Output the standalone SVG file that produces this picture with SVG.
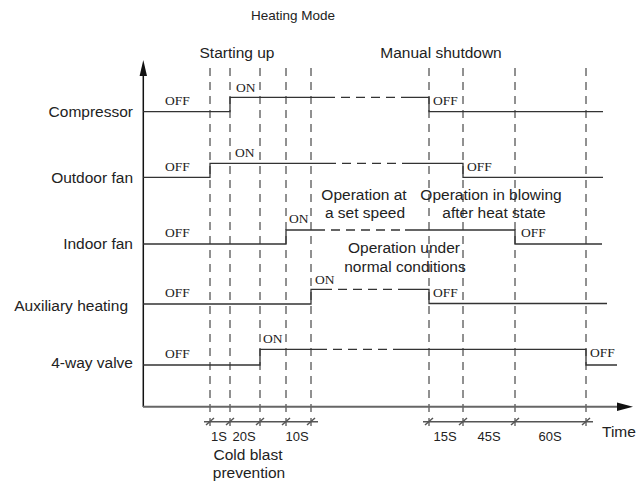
<svg xmlns="http://www.w3.org/2000/svg" width="636" height="484" viewBox="0 0 636 484">
<defs>
<style>
.t{font-family:"Liberation Sans",Arial,sans-serif;font-size:15.5px;fill:#222}
.s{font-family:"Liberation Sans",Arial,sans-serif;font-size:13px;fill:#222}
.h{font-family:"Liberation Sans",Arial,sans-serif;font-size:13.5px;fill:#222}
.o{font-family:"Liberation Serif","Times New Roman",serif;font-size:13.5px;fill:#222}
.sig{fill:none;stroke:#333;stroke-width:1.3}
.dsh{fill:none;stroke:#333;stroke-width:1.3;stroke-dasharray:9 6}
.grid{fill:none;stroke:#222;stroke-width:1;stroke-dasharray:8 6}
.tk{fill:none;stroke:#555;stroke-width:1.5}
</style>
</defs>
<rect width="636" height="484" fill="#fff"/>
<text class="h" x="293" y="20" text-anchor="middle">Heating Mode</text>
<text class="t" x="237" y="58" text-anchor="middle">Starting up</text>
<text class="t" x="441" y="58" text-anchor="middle">Manual shutdown</text>

<g id="grid">
<path class="grid" d="M210,68V432M230,68V432M260,68V432M286,68V432M311,68V432M429,68V432M463,68V432M515,68V432M586,68V432"/>
</g>

<g id="axes">
<line x1="143.3" y1="72" x2="143.3" y2="407" stroke="#111" stroke-width="1.5"/>
<polygon points="143.3,60 139.6,76 147,76" fill="#111"/>
<line x1="143" y1="406.7" x2="620" y2="406.7" stroke="#666" stroke-width="2"/>
<polygon points="633,406.7 617,402.5 617,411" fill="#111"/>
</g>

<g id="compressor">
<text class="t" x="133" y="117" text-anchor="end">Compressor</text>
<path class="sig" d="M143.3,111.7H230V97.3H326"/>
<path class="dsh" d="M326,97.3H405"/>
<path class="sig" d="M405,97.3H429V111.7H603"/>
<text class="o" x="165" y="105">OFF</text>
<text class="o" x="236" y="92">ON</text>
<text class="o" x="433" y="105">OFF</text>
</g>

<g id="outdoor-fan">
<text class="t" x="133" y="183" text-anchor="end">Outdoor fan</text>
<path class="sig" d="M143.3,177.3H210V163.3H327"/>
<path class="dsh" d="M327,163.3H405"/>
<path class="sig" d="M405,163.3H463V177.3H603"/>
<text class="o" x="165" y="171">OFF</text>
<text class="o" x="235" y="157">ON</text>
<text class="o" x="467" y="171">OFF</text>
</g>

<g id="indoor-fan">
<text class="t" x="133" y="249" text-anchor="end">Indoor fan</text>
<path class="sig" d="M143.3,244H286V230H316"/>
<path class="dsh" d="M316,230H405"/>
<path class="sig" d="M405,230H515V244H602"/>
<text class="o" x="165" y="237">OFF</text>
<text class="o" x="289" y="223">ON</text>
<text class="o" x="521" y="237">OFF</text>
</g>

<g id="auxiliary-heating">
<text class="t" x="128" y="311" text-anchor="end">Auxiliary heating</text>
<path class="sig" d="M143.3,304H311V289.3H323"/>
<path class="dsh" d="M323,289.3H405"/>
<path class="sig" d="M405,289.3H429V303.5H607"/>
<text class="o" x="165" y="297">OFF</text>
<text class="o" x="315" y="284">ON</text>
<text class="o" x="433" y="297">OFF</text>
</g>

<g id="four-way-valve">
<text class="t" x="133" y="368" text-anchor="end">4-way valve</text>
<path class="sig" d="M143.3,365H260V349.3H318"/>
<path class="dsh" d="M318,349.3H402"/>
<path class="sig" d="M402,349.3H586V365H617"/>
<text class="o" x="165" y="358">OFF</text>
<text class="o" x="263" y="343">ON</text>
<text class="o" x="590" y="357">OFF</text>
</g>

<g id="notes">
<text class="t" x="364" y="200" text-anchor="middle">Operation at</text>
<text class="t" x="365" y="218" text-anchor="middle">a set speed</text>
<text class="t" x="491" y="200" text-anchor="middle">Operation in blowing</text>
<text class="t" x="494" y="218" text-anchor="middle">after heat state</text>
<text class="t" x="404" y="253" text-anchor="middle">Operation under</text>
<text class="t" x="405" y="272" text-anchor="middle">normal conditions</text>
</g>

<g id="timeline">
<path class="tk" d="M204,421.7H318M423,421.7H593"/>
<path class="tk" d="M206,425L214,418M226,425L234,418M256,425L264,418M282,425L290,418M307,425L315,418M425,425L433,418M459,425L467,418M511,425L519,418M582,425L590,418"/>
<text class="s" x="219" y="441" text-anchor="middle">1S</text>
<text class="s" x="244" y="441" text-anchor="middle">20S</text>
<text class="s" x="297" y="441" text-anchor="middle">10S</text>
<text class="s" x="445" y="441" text-anchor="middle">15S</text>
<text class="s" x="489" y="441" text-anchor="middle">45S</text>
<text class="s" x="550" y="441" text-anchor="middle">60S</text>
<text class="t" x="602" y="437">Time</text>
<text class="t" x="248" y="460" text-anchor="middle">Cold blast</text>
<text class="t" x="249" y="478" text-anchor="middle">prevention</text>
</g>
</svg>
